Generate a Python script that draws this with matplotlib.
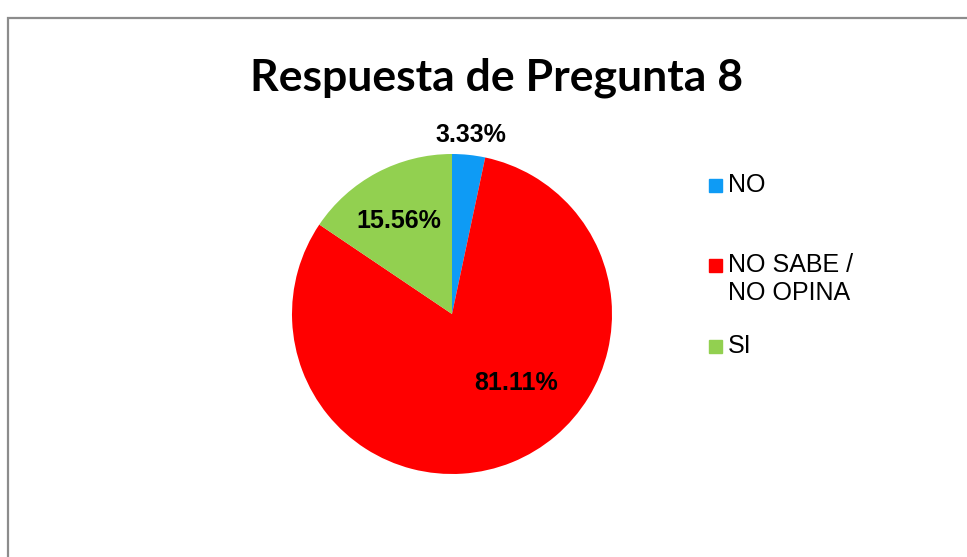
import numpy as np
import matplotlib
matplotlib.use('Agg')
import matplotlib.pyplot as plt
from matplotlib.patches import Rectangle

# data
categories = ['NO', 'NO SABE /\nNO OPINA', 'SI']
values = [3.33, 81.11, 15.56]
colors = ['#0E9BF5', '#FF0000', '#92D050']
# label placement per slice: radial distance, angular shift (deg)
label_dist = [1.125, 0.59, 0.67]
label_shift = [0, 21, 2]

W, H = 967, 557
fig = plt.figure(figsize=(W / 100, H / 100), dpi=100)

# outer chart border (cut at right / bottom like the source)
fig.patches.append(Rectangle((8 / W, -0.5), 1.2, 1.5 - 18 / H, transform=fig.transFigure,
                             fill=False, edgecolor='#8c8c8c', lw=1.6))

fig.text(497 / W, 1 - 78 / H, 'Respuesta de Pregunta 8', ha='center', va='center',
         fontsize=32, fontweight='bold', family='Lato', color='black')

# pie
cx, cy, r = 452, 314, 160
ax = fig.add_axes([(cx - r) / W, (H - cy - r) / H, 2 * r / W, 2 * r / H])
wedges, _ = ax.pie(values, colors=colors, startangle=90, counterclock=False,
                   wedgeprops=dict(linewidth=0))
ax.set_xlim(-1, 1)
ax.set_ylim(-1, 1)
ax.set_aspect('equal')

for w, v, d, s in zip(wedges, values, label_dist, label_shift):
    ang = np.deg2rad((w.theta1 + w.theta2) / 2 + s)
    ax.text(d * np.cos(ang), d * np.sin(ang), '%.2f%%' % v, ha='center', va='center',
            fontsize=18, fontweight='bold', family='Liberation Sans', clip_on=False)

# legend drawn like the spreadsheet one (marker on the first text line)
leg_y = [185, 265, 346]
for lab, c, y in zip(categories, colors, leg_y):
    fig.patches.append(Rectangle((709 / W, 1 - (y + 6.5) / H), 13 / W, 13 / H,
                                 transform=fig.transFigure, color=c))
    fig.text(728 / W, 1 - (y - 12) / H, lab, ha='left', va='top', fontsize=18,
             family='Liberation Sans', linespacing=1.2)

fig.savefig('out.png', dpi=100)
